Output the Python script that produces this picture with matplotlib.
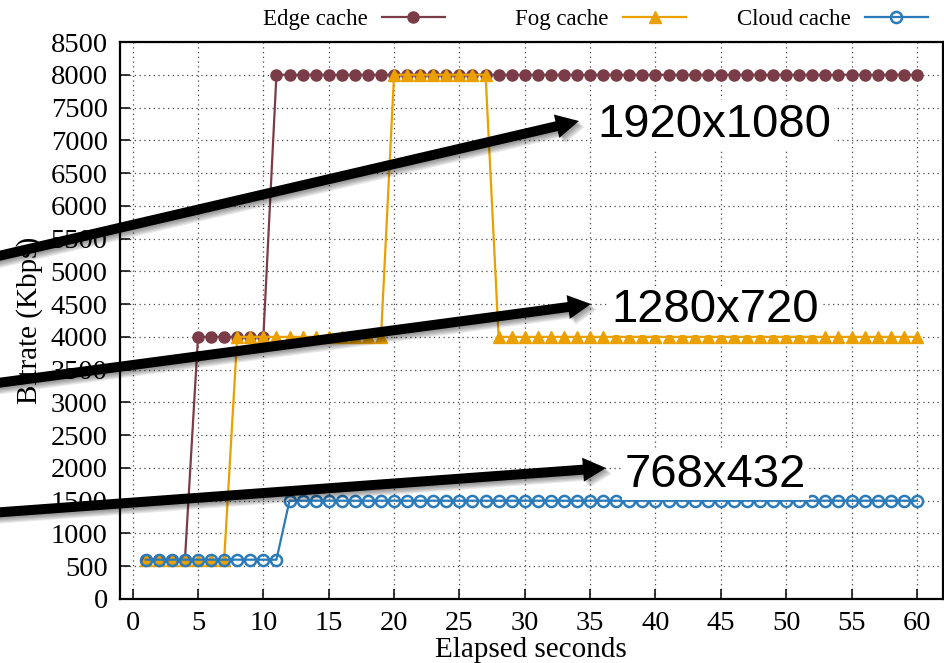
import numpy as np
import matplotlib
matplotlib.use("Agg")
import matplotlib.pyplot as plt
import matplotlib.patheffects as pe
from matplotlib.patches import FancyArrow

plt.rcParams['font.family'] = ['Liberation Serif', 'DejaVu Serif']

# ---- data -------------------------------------------------------------
seconds = list(range(1, 61))

edge_cache = [600, 600, 600, 600,
              4000, 4000, 4000, 4000, 4000, 4000,
              8000, 8000, 8000, 8000, 8000, 8000, 8000, 8000, 8000, 8000,
              8000, 8000, 8000, 8000, 8000, 8000, 8000, 8000, 8000, 8000,
              8000, 8000, 8000, 8000, 8000, 8000, 8000, 8000, 8000, 8000,
              8000, 8000, 8000, 8000, 8000, 8000, 8000, 8000, 8000, 8000,
              8000, 8000, 8000, 8000, 8000, 8000, 8000, 8000, 8000, 8000]

fog_cache = [600, 600, 600, 600, 600, 600, 600,
             4000, 4000, 4000, 4000, 4000, 4000, 4000, 4000, 4000, 4000, 4000, 4000,
             8000, 8000, 8000, 8000, 8000, 8000, 8000, 8000,
             4000, 4000, 4000, 4000, 4000, 4000, 4000, 4000, 4000, 4000, 4000,
             4000, 4000, 4000, 4000, 4000, 4000, 4000, 4000, 4000, 4000, 4000,
             4000, 4000, 4000, 4000, 4000, 4000, 4000, 4000, 4000, 4000, 4000]

cloud_cache = [600, 600, 600, 600, 600, 600, 600, 600, 600, 600, 600,
               1500, 1500, 1500, 1500, 1500, 1500, 1500, 1500, 1500, 1500,
               1500, 1500, 1500, 1500, 1500, 1500, 1500, 1500, 1500, 1500,
               1500, 1500, 1500, 1500, 1500, 1500, 1500, 1500, 1500, 1500,
               1500, 1500, 1500, 1500, 1500, 1500, 1500, 1500, 1500, 1500,
               1500, 1500, 1500, 1500, 1500, 1500, 1500, 1500, 1500]

series_labels = ["Edge cache", "Fog cache", "Cloud cache"]
resolutions = ["1920x1080", "1280x720", "768x432"]

x_ticks = list(range(0, 61, 5))
y_ticks = list(range(0, 8501, 500))

# ---- figure -----------------------------------------------------------
W, H = 945, 663
fig = plt.figure(figsize=(W / 100, H / 100), dpi=100)
ax = fig.add_axes([119.6 / W, 1 - 599 / H, (943 - 119.6) / W, (599 - 42) / H])

c_edge, c_fog, c_cloud = '#7a3d47', '#e9a000', '#2b7bba'

h_edge, = ax.plot(seconds, edge_cache, color=c_edge, lw=1.6, marker='o',
                  ms=8, mfc=c_edge, mec=c_edge, zorder=3, label=series_labels[0])
h_fog, = ax.plot(seconds, fog_cache, color=c_fog, lw=1.6, marker='^',
                 ms=8.5, mfc=c_fog, mec=c_fog, zorder=4, label=series_labels[1])
h_cloud, = ax.plot(seconds, cloud_cache, color=c_cloud, lw=1.6, marker='o',
                   ms=8, mfc='none', mec=c_cloud, mew=1.8, zorder=5,
                   label=series_labels[2])

ax.set_xlim(-1, 62)
ax.set_ylim(0, 8500)
ax.set_xticks(x_ticks)
ax.set_yticks(y_ticks)
ax.tick_params(axis='both', direction='in', length=7, width=1.1,
               labelsize=20.5, top=False, right=False)
ax.tick_params(axis='y', pad=8.5)
ax.tick_params(axis='x', pad=9)
ax.grid(True, linestyle=(0, (1, 2.8)), color='#4a4a4a', lw=0.9)
ax.set_axisbelow(True)
for s in ax.spines.values():
    s.set_linewidth(1.6)

ax.set_xlabel("Elapsed seconds", fontsize=21)
ax.xaxis.set_label_coords(0.5, -0.068)
ax.set_ylabel("Bitrate (Kbps)", fontsize=21)
ax.yaxis.set_label_coords(-0.093, 0.5)

# ---- key above the plot, right-justified text per column ---------------
key_right = [445, 686.5, 928]
for handle, xr in zip([h_edge, h_fog, h_cloud], key_right):
    leg = fig.legend(handles=[handle], loc='center right',
                     bbox_to_anchor=(xr / W, 1 - 19 / H), frameon=False,
                     markerfirst=False, numpoints=1, fontsize=16.5,
                     handlelength=2.75, handletextpad=0.64,
                     borderpad=0, borderaxespad=0)

# ---- annotation overlay in pixel coordinates --------------------------
ov = fig.add_axes([0, 0, 1, 1], zorder=10)
ov.set_xlim(0, W)
ov.set_ylim(H, 0)
ov.axis('off')

shadow = [pe.SimplePatchShadow(offset=(d, -d), shadow_rgbFace='k', alpha=0.09)
          for d in (1.0, 1.8, 2.6, 3.4, 4.2)] + [pe.Normal()]

arrows = [((-10, 258), (579, 121)),
          ((-10, 384), (591, 304)),
          ((-10, 513), (606, 468))]
for (x0, y0), (x1, y1) in arrows:
    a = FancyArrow(x0, y0, x1 - x0, y1 - y0, width=10, head_width=24,
                   head_length=23, length_includes_head=True,
                   color='black', lw=0)
    a.set_path_effects(shadow)
    ov.add_patch(a)

text_pos = [(597, 137), (611, 322.5), (625, 487)]
for label, (tx, ty) in zip(resolutions, text_pos):
    ov.text(tx, ty, label, fontsize=34, family=['Liberation Sans', 'DejaVu Sans'],
            ha='left', va='baseline',
            bbox=dict(facecolor='white', edgecolor='none', pad=2))

fig.savefig("out.png", dpi=100)
